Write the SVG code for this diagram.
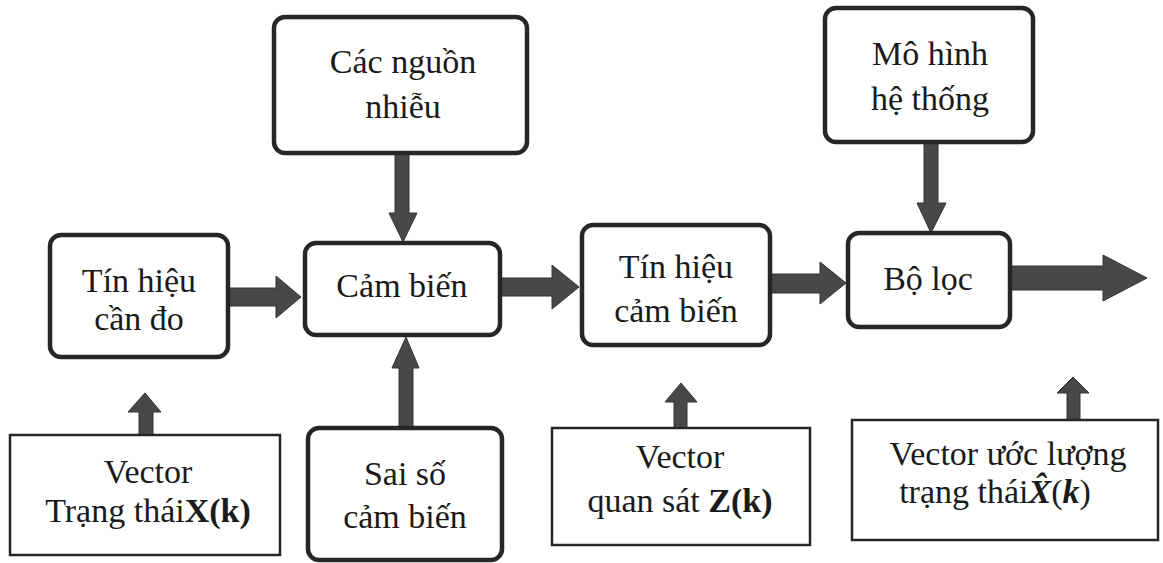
<svg xmlns="http://www.w3.org/2000/svg" width="1163" height="563" viewBox="0 0 1163 563">
<style>
.rb{fill:#fff;stroke:#262626;stroke-width:4.5}
.sb{fill:#fff;stroke:#262626;stroke-width:2.5}
.t{font-family:"Liberation Serif","Times New Roman",serif;font-size:34px;fill:#1a1a1a;text-anchor:middle}
.ar{fill:#484848;stroke:#333;stroke-width:1}
</style>
<rect width="1163" height="563" fill="#fff"/>
<g id="connectors">
<polygon class="ar" points="228,288 276,288 276,276 301,297 276,318 276,306 228,306"/>
<polygon class="ar" points="500,278 552,278 552,265 579,287 552,309 552,296 500,296"/>
<polygon class="ar" points="770,274 820,274 820,262 846,283 820,304 820,293 770,293"/>
<polygon class="ar" points="1010,266 1103,266 1103,255 1147,278 1103,301 1103,290 1010,290"/>
<polygon class="ar" points="395,153 409,153 409,213 417,213 403,242 389,213 395,213"/>
<polygon class="ar" points="924,142 938,142 938,203 946,203 931,233 917,203 924,203"/>
<polygon class="ar" points="399,428 413,428 413,368 419,368 406,337 392,368 399,368"/>
<polygon class="ar" points="139,435 153,435 153,412 161,412 145,393 128,412 139,412"/>
<polygon class="ar" points="674,428 687,428 687,402 697,402 681,383 665,402 674,402"/>
<polygon class="ar" points="1067,420 1080,420 1080,393 1089,393 1073,377 1057,393 1067,393"/>
</g>
<g id="n-tinhieucando">
<rect class="rb" x="50" y="235" width="178" height="122" rx="11"/>
<text class="t" x="139" y="292">Tín hiệu</text>
<text class="t" x="139" y="330">cần đo</text>
</g>
<g id="n-nguonnhieu">
<rect class="rb" x="274" y="17" width="253" height="136" rx="11"/>
<text class="t" x="403" y="73">Các nguồn</text>
<text class="t" x="403" y="118">nhiễu</text>
</g>
<g id="n-cambien">
<rect class="rb" x="305" y="243" width="195" height="92" rx="11"/>
<text class="t" x="402" y="297">Cảm biến</text>
</g>
<g id="n-tinhieucambien">
<rect class="rb" x="582" y="225" width="188" height="120" rx="11"/>
<text class="t" x="676" y="278">Tín hiệu</text>
<text class="t" x="676" y="322">cảm biến</text>
</g>
<g id="n-mohinh">
<rect class="rb" x="825" y="8" width="208" height="134" rx="11"/>
<text class="t" x="930" y="65">Mô hình</text>
<text class="t" x="930" y="110">hệ thống</text>
</g>
<g id="n-boloc">
<rect class="rb" x="848" y="233" width="162" height="94" rx="11"/>
<text class="t" x="928" y="290">Bộ lọc</text>
</g>
<g id="n-saiso">
<rect class="rb" x="308" y="428" width="194" height="132" rx="11"/>
<text class="t" x="405" y="485">Sai số</text>
<text class="t" x="405" y="528">cảm biến</text>
</g>
<g id="n-vectorX">
<rect class="sb" x="10" y="435" width="270" height="120"/>
<text class="t" x="148" y="483">Vector</text>
<text class="t" x="148" y="522">Trạng thái<tspan font-weight="bold">X(k)</tspan></text>
</g>
<g id="n-vectorZ">
<rect class="sb" x="552" y="428" width="258" height="117"/>
<text class="t" x="680" y="468">Vector</text>
<text class="t" x="680" y="512">quan sát <tspan font-weight="bold">Z(k)</tspan></text>
</g>
<g id="n-vectorXhat">
<rect class="sb" x="852" y="420" width="306" height="120"/>
<text class="t" x="1008" y="465">Vector ước lượng</text>
<text class="t" x="995" y="503">trạng thái<tspan font-weight="bold" font-style="italic">X̂</tspan>(<tspan font-weight="bold" font-style="italic">k</tspan>)</text>
</g>
</svg>
